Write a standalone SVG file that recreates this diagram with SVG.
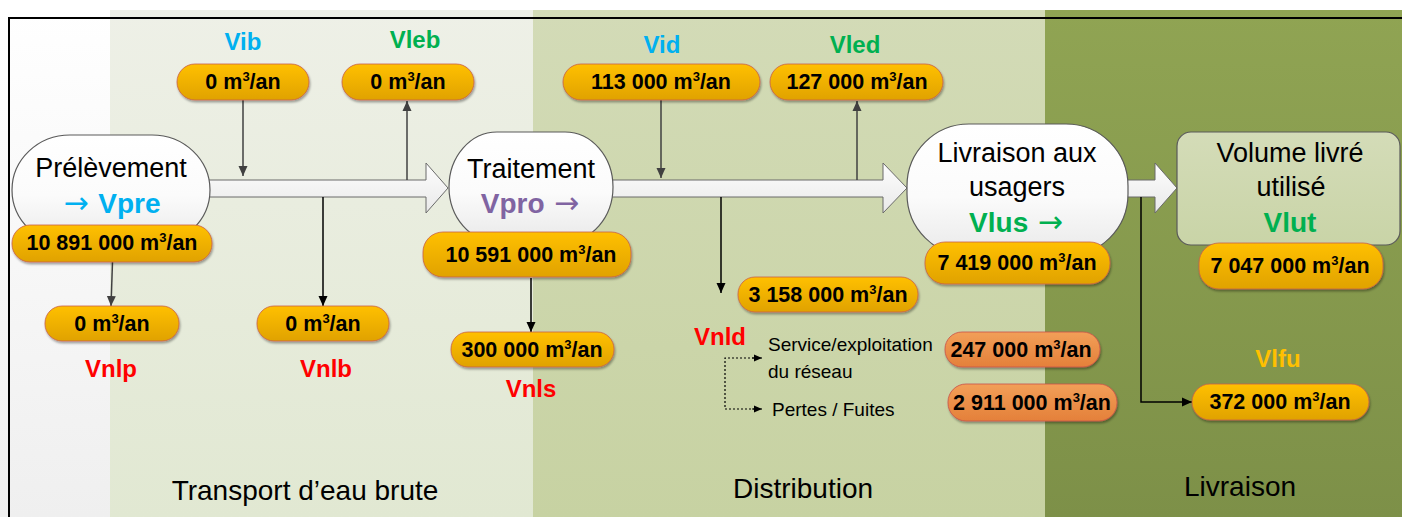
<svg xmlns="http://www.w3.org/2000/svg" width="1402" height="517" viewBox="0 0 1402 517">
  <defs>
    <linearGradient id="gBandW" x1="0" y1="0" x2="0" y2="1"><stop offset="0" stop-color="#ffffff"/><stop offset="1" stop-color="#efefef"/></linearGradient>
    <linearGradient id="gBand1" x1="0" y1="0" x2="0" y2="1"><stop offset="0" stop-color="#eef0e7"/><stop offset="1" stop-color="#e1e8d2"/></linearGradient>
    <linearGradient id="gBand2" x1="0" y1="0" x2="0" y2="1"><stop offset="0" stop-color="#d3dbb7"/><stop offset="1" stop-color="#c7d2a2"/></linearGradient>
    <linearGradient id="gBand3" x1="0" y1="0" x2="0" y2="1"><stop offset="0" stop-color="#90a453"/><stop offset="1" stop-color="#7d9048"/></linearGradient>
    <linearGradient id="gNode" x1="0" y1="0" x2="0" y2="1"><stop offset="0" stop-color="#ffffff"/><stop offset="0.55" stop-color="#fbfbfb"/><stop offset="1" stop-color="#e9e9e9"/></linearGradient>
    <linearGradient id="gVol" x1="0" y1="0" x2="0" y2="1"><stop offset="0" stop-color="#d4dcb8"/><stop offset="1" stop-color="#c9d4a7"/></linearGradient>
    <linearGradient id="gPill" x1="0" y1="0" x2="0" y2="1"><stop offset="0" stop-color="#ffc000"/><stop offset="1" stop-color="#e0a200"/></linearGradient>
    <linearGradient id="gPillO" x1="0" y1="0" x2="0" y2="1"><stop offset="0" stop-color="#f29f58"/><stop offset="1" stop-color="#e4803a"/></linearGradient>
    <linearGradient id="gArrow" x1="0" y1="0" x2="0" y2="1"><stop offset="0" stop-color="#fdfdfd"/><stop offset="1" stop-color="#e9e9e9"/></linearGradient>
    <filter id="shadow" x="-10%" y="-20%" width="120%" height="150%">
      <feDropShadow dx="1" dy="2" stdDeviation="1" flood-color="#000" flood-opacity="0.35"/>
    </filter>
    <marker id="ahGray" viewBox="0 0 10 10" refX="10" refY="5" markerWidth="10" markerHeight="10" markerUnits="userSpaceOnUse" orient="auto">
      <path d="M0,0.5 L10,5 L0,9.5 z" fill="#404040"/>
    </marker>
    <marker id="ahBlack" viewBox="0 0 10 10" refX="10" refY="5" markerWidth="10" markerHeight="10" markerUnits="userSpaceOnUse" orient="auto">
      <path d="M0,0.5 L10,5 L0,9.5 z" fill="#000"/>
    </marker>
    <marker id="ahSmall" viewBox="0 0 10 10" refX="10" refY="5" markerWidth="8" markerHeight="8" markerUnits="userSpaceOnUse" orient="auto">
      <path d="M0,0.5 L10,5 L0,9.5 z" fill="#000"/>
    </marker>
  </defs>
  <style>
    text { font-family: "Liberation Sans", Arial, sans-serif; }
    .node { fill: url(#gNode); stroke: #5a5a5a; stroke-width: 1.2; }
    .vol { fill: url(#gVol); stroke: #5a5a5a; stroke-width: 1.2; }
    .block { fill: url(#gArrow); stroke: #6a6a6a; stroke-width: 1; }
    .pill { fill: url(#gPill); stroke: #c8604a; stroke-width: 0.8; filter: url(#shadow); }
    .pillO { fill: url(#gPillO); stroke: #c8504a; stroke-width: 0.8; filter: url(#shadow); }
    .v { font-size: 21.5px; font-weight: bold; fill: #000; text-anchor: middle; }
    .s { font-size: 13px; }
    .title { font-size: 27px; fill: #000; text-anchor: middle; }
    .code { font-size: 28px; font-weight: bold; text-anchor: middle; }
    .lab { font-size: 24px; font-weight: bold; text-anchor: middle; }
    .arr { font-family: "DejaVu Sans", sans-serif; font-weight: normal; font-size: 30px; }
    .blue { fill: #00b0f0; }
    .green { fill: #00b050; }
    .purple { fill: #8064a2; }
    .red { fill: #ff0000; }
    .gold { fill: #ffc000; }
    .phase { font-size: 28px; fill: #000; text-anchor: middle; }
    .small { font-size: 19px; fill: #000; }
    .lg { stroke: #404040; stroke-width: 1.5; fill: none; marker-end: url(#ahGray); }
    .lb { stroke: #000; stroke-width: 1.5; fill: none; marker-end: url(#ahBlack); }
    .ld { stroke: #000; stroke-width: 1.2; stroke-dasharray: 2 2; fill: none; }
  </style>

  <!-- background phases -->
  <g id="phases">
    <rect x="0" y="0" width="1402" height="517" fill="#ffffff"/>
    <rect x="0" y="10" width="110" height="507" fill="url(#gBandW)"/>
    <rect x="110" y="10" width="423" height="507" fill="url(#gBand1)"/>
    <rect x="533" y="10" width="512" height="507" fill="url(#gBand2)"/>
    <rect x="1045" y="10" width="357" height="507" fill="url(#gBand3)"/>
    <path d="M9,517 V18 H1402" fill="none" stroke="#000" stroke-width="2"/>
    <text class="phase" x="305" y="500">Transport d’eau brute</text>
    <text class="phase" x="803" y="498">Distribution</text>
    <text class="phase" x="1240" y="496" font-size="27">Livraison</text>
  </g>

  <!-- connectors -->
  <g id="connectors">
    <path class="block" d="M205,180 H426 V163 L448,188 L426,213 V197 H205 Z"/>
    <path class="block" d="M608,180 H883 V163 L907,188 L883,213 V197 H608 Z"/>
    <path class="block" d="M1124,180 H1155 V163 L1177,188 L1155,213 V197 H1124 Z"/>
    <line class="lg" x1="243" y1="100" x2="243" y2="176"/>
    <line class="lg" x1="407" y1="180" x2="407" y2="101"/>
    <line class="lg" x1="661" y1="100" x2="661" y2="178"/>
    <line class="lg" x1="857" y1="180" x2="857" y2="101"/>
    <line class="lg" x1="112.5" y1="262" x2="111" y2="306"/>
    <line class="lb" x1="323" y1="197" x2="323" y2="306"/>
    <line class="lb" x1="531" y1="278" x2="531" y2="332"/>
    <line class="lb" x1="721" y1="197" x2="721" y2="293"/>
    <path class="lb" d="M1141,197 V402 H1192"/>
    <path class="ld" d="M754,358 H725 V409 H754"/>
    <line x1="752" y1="358" x2="762" y2="358" stroke="#000" stroke-width="1" marker-end="url(#ahSmall)"/>
    <line x1="752" y1="409" x2="762" y2="409" stroke="#000" stroke-width="1" marker-end="url(#ahSmall)"/>
  </g>

  <!-- stage nodes -->
  <g id="node-prelevement">
    <rect class="node" x="12" y="135" width="198" height="110" rx="58" ry="55"/>
    <text class="title" x="111" y="177">Prélèvement</text>
    <text class="code blue" x="112" y="213"><tspan class="arr">→ </tspan>Vpre</text>
  </g>
  <g id="node-traitement">
    <rect class="node" x="449" y="132" width="164" height="110" rx="48" ry="55"/>
    <text class="title" x="531" y="178">Traitement</text>
    <text class="code purple" x="530" y="213">Vpro<tspan class="arr"> →</tspan></text>
  </g>
  <g id="node-livraison">
    <rect class="node" x="907" y="124" width="221" height="132" rx="62" ry="62"/>
    <text class="title" x="1017" y="162">Livraison aux</text>
    <text class="title" x="1017" y="196">usagers</text>
    <text class="code green" x="1016" y="232">Vlus<tspan class="arr"> →</tspan></text>
  </g>
  <g id="node-volume">
    <rect class="vol" x="1177" y="132" width="223" height="113" rx="14"/>
    <text class="title" x="1290" y="162">Volume livré</text>
    <text class="title" x="1291" y="196">utilisé</text>
    <text class="code green" x="1290" y="232" font-size="30">Vlut</text>
  </g>

  <!-- volume labels -->
  <g id="labels">
    <text class="lab blue" x="243" y="50">Vib</text>
    <text class="lab green" x="415" y="48">Vleb</text>
    <text class="lab blue" x="662" y="53">Vid</text>
    <text class="lab green" x="855" y="53">Vled</text>
    <text class="lab red" x="111" y="377">Vnlp</text>
    <text class="lab red" x="326" y="377">Vnlb</text>
    <text class="lab red" x="531" y="397">Vnls</text>
    <text class="lab red" x="720" y="345">Vnld</text>
    <text class="lab gold" x="1278" y="367">Vlfu</text>
    <text class="small" x="768" y="351">Service/exploitation</text>
    <text class="small" x="768" y="378">du réseau</text>
    <text class="small" x="772" y="416">Pertes / Fuites</text>
  </g>

  <!-- volume values -->
  <g id="pill-vib">
    <rect class="pill" x="177" y="64" width="132" height="36" rx="18"/>
    <text class="v" x="243" y="89">0 m<tspan class="s" dy="-8">3</tspan><tspan dy="8">/an</tspan></text>
  </g>
  <g id="pill-vleb">
    <rect class="pill" x="342" y="64" width="132" height="36" rx="18"/>
    <text class="v" x="408" y="89">0 m<tspan class="s" dy="-8">3</tspan><tspan dy="8">/an</tspan></text>
  </g>
  <g id="pill-vid">
    <rect class="pill" x="563" y="64" width="197" height="36" rx="18"/>
    <text class="v" x="661" y="89">113 000 m<tspan class="s" dy="-8">3</tspan><tspan dy="8">/an</tspan></text>
  </g>
  <g id="pill-vled">
    <rect class="pill" x="770" y="64" width="173" height="36" rx="18"/>
    <text class="v" x="857" y="89">127 000 m<tspan class="s" dy="-8">3</tspan><tspan dy="8">/an</tspan></text>
  </g>
  <g id="pill-vpre">
    <rect class="pill" x="12" y="225" width="200" height="37" rx="18"/>
    <text class="v" x="112" y="250">10 891 000 m<tspan class="s" dy="-8">3</tspan><tspan dy="8">/an</tspan></text>
  </g>
  <g id="pill-vpro">
    <rect class="pill" x="423" y="232" width="208" height="45" rx="20"/>
    <text class="v" x="531" y="262">10 591 000 m<tspan class="s" dy="-8">3</tspan><tspan dy="8">/an</tspan></text>
  </g>
  <g id="pill-vlus">
    <rect class="pill" x="925" y="242" width="185" height="42" rx="20"/>
    <text class="v" x="1017" y="270">7 419 000 m<tspan class="s" dy="-8">3</tspan><tspan dy="8">/an</tspan></text>
  </g>
  <g id="pill-vlut">
    <rect class="pill" x="1199" y="243" width="184" height="46" rx="20"/>
    <text class="v" x="1290" y="273">7 047 000 m<tspan class="s" dy="-8">3</tspan><tspan dy="8">/an</tspan></text>
  </g>
  <g id="pill-vnlp">
    <rect class="pill" x="45" y="306" width="134" height="35" rx="17"/>
    <text class="v" x="112" y="331">0 m<tspan class="s" dy="-8">3</tspan><tspan dy="8">/an</tspan></text>
  </g>
  <g id="pill-vnlb">
    <rect class="pill" x="257" y="306" width="132" height="35" rx="17"/>
    <text class="v" x="323" y="331">0 m<tspan class="s" dy="-8">3</tspan><tspan dy="8">/an</tspan></text>
  </g>
  <g id="pill-vnls">
    <rect class="pill" x="451" y="332" width="163" height="35" rx="17"/>
    <text class="v" x="532" y="357">300 000 m<tspan class="s" dy="-8">3</tspan><tspan dy="8">/an</tspan></text>
  </g>
  <g id="pill-vnld">
    <rect class="pill" x="738" y="277" width="180" height="35" rx="17"/>
    <text class="v" x="828" y="302">3 158 000 m<tspan class="s" dy="-8">3</tspan><tspan dy="8">/an</tspan></text>
  </g>
  <g id="pill-service">
    <rect class="pillO" x="945" y="332" width="155" height="35" rx="17"/>
    <text class="v" x="1021" y="357">247 000 m<tspan class="s" dy="-8">3</tspan><tspan dy="8">/an</tspan></text>
  </g>
  <g id="pill-pertes">
    <rect class="pillO" x="948" y="384" width="169" height="37" rx="18"/>
    <text class="v" x="1032" y="410">2 911 000 m<tspan class="s" dy="-8">3</tspan><tspan dy="8">/an</tspan></text>
  </g>
  <g id="pill-vlfu">
    <rect class="pill" x="1192" y="384" width="177" height="36" rx="18"/>
    <text class="v" x="1280" y="409">372 000 m<tspan class="s" dy="-8">3</tspan><tspan dy="8">/an</tspan></text>
  </g>
</svg>
